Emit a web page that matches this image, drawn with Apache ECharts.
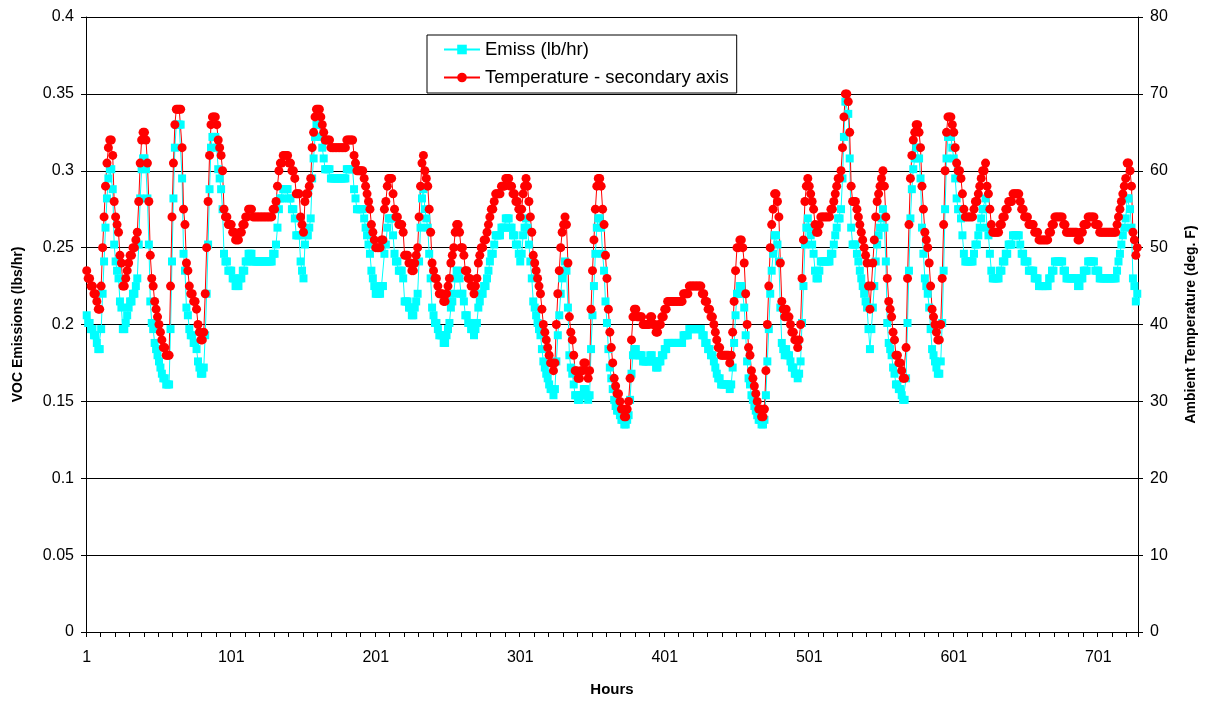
<!DOCTYPE html>
<html><head><meta charset="utf-8">
<script src="https://cdn.jsdelivr.net/npm/echarts@6/dist/echarts.min.js"></script>
<style>html,body{margin:0;padding:0;background:#fff}#c{width:1206px;height:702px}</style>
</head><body><div id="c"></div><script>
// Ambient temperature (deg. F), one value per hour
const tempF = [
47,46,46,45,45,44,44,43,42,42,
45,50,54,58,61,63,64,64,62,56,
54,53,52,49,48,45,45,46,47,48,
49,49,50,50,51,52,56,61,64,65,
65,64,61,56,49,46,45,43,42,41,
40,39,38,37,37,36,36,36,45,54,
61,66,68,68,68,68,63,55,53,48,
47,45,44,44,43,43,42,40,39,38,
38,39,44,50,56,62,66,67,67,67,
66,64,63,62,60,55,54,54,53,53,
53,52,52,51,51,51,52,52,53,53,
54,54,55,55,55,54,54,54,54,54,
54,54,54,54,54,54,54,54,54,55,
55,56,58,60,61,61,62,62,62,62,
61,61,60,60,59,57,57,57,54,53,
52,56,57,57,58,59,63,65,67,68,
68,68,67,66,65,64,64,64,64,63,
63,63,63,63,63,63,63,63,63,63,
64,64,64,64,64,62,61,60,60,60,
60,60,59,58,57,56,55,53,52,51,
50,50,50,50,51,51,55,56,58,59,
59,59,57,55,54,54,53,53,53,52,
49,49,49,48,48,47,47,48,49,50,
54,58,61,62,60,59,58,55,52,48,
47,46,46,45,44,44,44,43,43,44,
45,46,48,49,50,52,53,53,52,50,
50,49,47,47,46,46,45,45,44,45,
46,48,49,50,50,51,51,52,53,54,
55,55,56,57,57,57,57,58,58,58,
59,59,59,58,58,57,57,56,56,55,
54,55,57,58,59,58,56,54,52,49,
48,47,46,45,44,42,40,39,38,37,
36,35,35,34,35,40,44,47,50,52,
53,54,53,48,41,39,38,36,34,34,
33,33,34,34,35,35,34,33,34,42,
47,51,55,58,59,59,58,55,53,49,
46,42,39,37,35,33,32,31,31,30,
29,29,28,28,29,30,33,38,41,42,
42,41,41,41,41,40,40,40,40,40,
41,41,40,40,39,39,40,40,41,41,
42,42,43,43,43,43,43,43,43,43,
43,43,43,44,44,44,44,45,45,45,
45,45,45,45,45,45,44,44,43,43,
42,42,41,41,40,39,38,37,37,36,
36,36,36,36,36,35,36,39,43,47,
50,50,51,51,50,48,44,40,37,36,
34,33,32,31,30,29,29,28,28,29,
34,40,45,50,53,55,57,57,56,54,
48,43,42,41,42,41,41,40,39,39,
38,38,37,38,40,46,51,56,58,59,
58,57,56,55,53,52,52,53,54,54,
54,54,54,54,54,55,55,56,57,58,
59,59,60,63,67,70,70,69,65,58,
56,56,56,55,54,53,52,51,50,49,
48,45,42,45,48,51,54,56,57,58,
59,60,58,54,46,43,42,41,39,38,
36,36,35,35,34,33,33,37,46,53,
59,62,64,65,66,66,65,63,58,55,
52,51,50,48,45,42,41,40,39,38,
38,40,46,53,60,65,67,67,67,66,
65,63,61,60,60,59,57,55,54,54,
54,54,54,54,55,56,56,57,58,59,
60,60,61,58,57,55,53,52,52,52,
52,52,53,53,54,54,55,55,56,56,
56,57,57,57,57,57,56,55,55,54,
54,54,53,53,53,53,52,52,52,51,
51,51,51,51,51,51,52,52,53,53,
54,54,54,54,54,54,53,53,52,52,
52,52,52,52,52,52,51,51,52,52,
53,53,53,54,54,54,54,54,53,53,
53,52,52,52,52,52,52,52,52,52,
52,52,52,53,54,55,56,57,58,59,
61,61,60,58,52,51,49,50
];
// VOC emissions (lb/hr), one value per hour
const emiss = [
0.206,0.201,0.201,0.197,0.197,0.193,0.193,0.188,0.184,0.184,
0.197,0.220,0.241,0.263,0.282,0.295,0.301,0.301,0.288,0.252,
0.241,0.235,0.230,0.215,0.211,0.197,0.197,0.201,0.206,0.211,
0.215,0.215,0.220,0.220,0.225,0.230,0.252,0.282,0.301,0.308,
0.308,0.301,0.282,0.252,0.215,0.201,0.197,0.188,0.184,0.180,
0.176,0.172,0.168,0.165,0.165,0.161,0.161,0.161,0.197,0.241,
0.282,0.315,0.330,0.330,0.330,0.330,0.295,0.246,0.235,0.211,
0.206,0.197,0.193,0.193,0.188,0.188,0.184,0.176,0.172,0.168,
0.168,0.172,0.193,0.220,0.252,0.288,0.315,0.322,0.322,0.322,
0.315,0.301,0.295,0.288,0.275,0.246,0.241,0.241,0.235,0.235,
0.235,0.230,0.230,0.225,0.225,0.225,0.230,0.230,0.235,0.235,
0.241,0.241,0.246,0.246,0.246,0.241,0.241,0.241,0.241,0.241,
0.241,0.241,0.241,0.241,0.241,0.241,0.241,0.241,0.241,0.246,
0.246,0.252,0.263,0.275,0.282,0.282,0.288,0.288,0.288,0.288,
0.282,0.282,0.275,0.275,0.269,0.258,0.258,0.258,0.241,0.235,
0.230,0.252,0.258,0.258,0.263,0.269,0.295,0.308,0.322,0.330,
0.330,0.330,0.322,0.315,0.308,0.301,0.301,0.301,0.301,0.295,
0.295,0.295,0.295,0.295,0.295,0.295,0.295,0.295,0.295,0.295,
0.301,0.301,0.301,0.301,0.301,0.288,0.282,0.275,0.275,0.275,
0.275,0.275,0.269,0.263,0.258,0.252,0.246,0.235,0.230,0.225,
0.220,0.220,0.220,0.220,0.225,0.225,0.246,0.252,0.263,0.269,
0.269,0.269,0.258,0.246,0.241,0.241,0.235,0.235,0.235,0.230,
0.215,0.215,0.215,0.211,0.211,0.206,0.206,0.211,0.215,0.220,
0.241,0.263,0.282,0.288,0.275,0.269,0.263,0.246,0.230,0.211,
0.206,0.201,0.201,0.197,0.193,0.193,0.193,0.188,0.188,0.193,
0.197,0.201,0.211,0.215,0.220,0.230,0.235,0.235,0.230,0.220,
0.220,0.215,0.206,0.206,0.201,0.201,0.197,0.197,0.193,0.197,
0.201,0.211,0.215,0.220,0.220,0.225,0.225,0.230,0.235,0.241,
0.246,0.246,0.252,0.258,0.258,0.258,0.258,0.263,0.263,0.263,
0.269,0.269,0.269,0.263,0.263,0.258,0.258,0.252,0.252,0.246,
0.241,0.246,0.258,0.263,0.269,0.263,0.252,0.241,0.230,0.215,
0.211,0.206,0.201,0.197,0.193,0.184,0.176,0.172,0.168,0.165,
0.161,0.158,0.158,0.154,0.158,0.176,0.193,0.206,0.220,0.230,
0.235,0.241,0.235,0.211,0.180,0.172,0.168,0.161,0.154,0.154,
0.151,0.151,0.154,0.154,0.158,0.158,0.154,0.151,0.154,0.184,
0.206,0.225,0.246,0.263,0.269,0.269,0.263,0.246,0.235,0.215,
0.201,0.184,0.172,0.165,0.158,0.151,0.147,0.144,0.144,0.141,
0.138,0.138,0.135,0.135,0.138,0.141,0.151,0.168,0.180,0.184,
0.184,0.180,0.180,0.180,0.180,0.176,0.176,0.176,0.176,0.176,
0.180,0.180,0.176,0.176,0.172,0.172,0.176,0.176,0.180,0.180,
0.184,0.184,0.188,0.188,0.188,0.188,0.188,0.188,0.188,0.188,
0.188,0.188,0.188,0.193,0.193,0.193,0.193,0.197,0.197,0.197,
0.197,0.197,0.197,0.197,0.197,0.197,0.193,0.193,0.188,0.188,
0.184,0.184,0.180,0.180,0.176,0.172,0.168,0.165,0.165,0.161,
0.161,0.161,0.161,0.161,0.161,0.158,0.161,0.172,0.188,0.206,
0.220,0.220,0.225,0.225,0.220,0.211,0.193,0.176,0.165,0.161,
0.154,0.151,0.147,0.144,0.141,0.138,0.138,0.135,0.135,0.138,
0.154,0.176,0.197,0.220,0.235,0.246,0.258,0.258,0.252,0.241,
0.211,0.188,0.184,0.180,0.184,0.180,0.180,0.176,0.172,0.172,
0.168,0.168,0.165,0.168,0.176,0.201,0.225,0.252,0.263,0.269,
0.263,0.258,0.252,0.246,0.235,0.230,0.230,0.235,0.241,0.241,
0.241,0.241,0.241,0.241,0.241,0.246,0.246,0.252,0.258,0.263,
0.269,0.269,0.275,0.295,0.322,0.345,0.345,0.337,0.308,0.263,
0.252,0.252,0.252,0.246,0.241,0.235,0.230,0.225,0.220,0.215,
0.211,0.197,0.184,0.197,0.211,0.225,0.241,0.252,0.258,0.263,
0.269,0.275,0.263,0.241,0.201,0.188,0.184,0.180,0.172,0.168,
0.161,0.161,0.158,0.158,0.154,0.151,0.151,0.165,0.201,0.235,
0.269,0.288,0.301,0.308,0.315,0.315,0.308,0.295,0.263,0.246,
0.230,0.225,0.220,0.211,0.197,0.184,0.180,0.176,0.172,0.168,
0.168,0.176,0.201,0.235,0.275,0.308,0.322,0.322,0.322,0.315,
0.308,0.295,0.282,0.275,0.275,0.269,0.258,0.246,0.241,0.241,
0.241,0.241,0.241,0.241,0.246,0.252,0.252,0.258,0.263,0.269,
0.275,0.275,0.282,0.263,0.258,0.246,0.235,0.230,0.230,0.230,
0.230,0.230,0.235,0.235,0.241,0.241,0.246,0.246,0.252,0.252,
0.252,0.258,0.258,0.258,0.258,0.258,0.252,0.246,0.246,0.241,
0.241,0.241,0.235,0.235,0.235,0.235,0.230,0.230,0.230,0.225,
0.225,0.225,0.225,0.225,0.225,0.225,0.230,0.230,0.235,0.235,
0.241,0.241,0.241,0.241,0.241,0.241,0.235,0.235,0.230,0.230,
0.230,0.230,0.230,0.230,0.230,0.230,0.225,0.225,0.230,0.230,
0.235,0.235,0.235,0.241,0.241,0.241,0.241,0.241,0.235,0.235,
0.235,0.230,0.230,0.230,0.230,0.230,0.230,0.230,0.230,0.230,
0.230,0.230,0.230,0.235,0.241,0.246,0.252,0.258,0.263,0.269,
0.282,0.282,0.275,0.263,0.230,0.225,0.215,0.220
];
const hours = tempF.map((_, i) => String(i + 1));
const seriesNames = ['Emiss (lb/hr)', 'Temperature - secondary axis'];

const FONT = '"Liberation Sans", Arial, sans-serif';
const chart = echarts.init(document.getElementById('c'), null, {renderer: 'canvas'});
chart.setOption({
  animation: false,
  backgroundColor: '#fff',
  textStyle: {fontFamily: FONT, color: '#000'},
  grid: {left: 86, right: 68, top: 17, bottom: 70, containLabel: false},
  legend: {
    orient: 'vertical', left: 427, top: 35,
    padding: [5, 8, 6, 16], itemGap: 9, itemWidth: 36, itemHeight: 12,
    backgroundColor: '#fff', borderColor: '#000', borderWidth: 1, borderRadius: 0,
    textStyle: {fontSize: 18.5, color: '#000', fontFamily: FONT},
    data: seriesNames
  },
  xAxis: {
    type: 'category', data: hours, boundaryGap: true,
    name: 'Hours', nameLocation: 'middle', nameGap: 50,
    nameTextStyle: {fontWeight: 'bold', fontSize: 15, color: '#000', fontFamily: FONT},
    axisLine: {show: true, lineStyle: {color: '#000', width: 1}},
    axisTick: {show: true, interval: 9, length: 5, lineStyle: {color: '#000'}},
    axisLabel: {interval: 99, fontSize: 16, color: '#000', margin: 18, fontFamily: FONT},
    splitLine: {show: false}
  },
  yAxis: [{
    type: 'value', min: 0, max: 0.4, interval: 0.05, position: 'left',
    name: 'VOC Emissions (lbs/hr)', nameLocation: 'middle', nameRotate: 90, nameGap: 61,
    nameTextStyle: {fontWeight: 'bold', fontSize: 14, color: '#000', fontFamily: FONT},
    axisLine: {show: true, lineStyle: {color: '#000', width: 1}},
    axisTick: {show: true, length: 5, lineStyle: {color: '#000'}},
    axisLabel: {fontSize: 16, color: '#000', margin: 12, fontFamily: FONT},
    splitLine: {show: true, lineStyle: {color: '#000', width: 1}}
  }, {
    type: 'value', min: 0, max: 80, interval: 10, position: 'right',
    name: 'Ambient Temperature (deg. F)', nameLocation: 'middle', nameRotate: 90, nameGap: 46,
    nameTextStyle: {fontWeight: 'bold', fontSize: 14, color: '#000', fontFamily: FONT},
    axisLine: {show: true, lineStyle: {color: '#000', width: 1}},
    axisTick: {show: true, length: 5, lineStyle: {color: '#000'}},
    axisLabel: {fontSize: 16, color: '#000', margin: 12, fontFamily: FONT},
    splitLine: {show: false}
  }],
  series: [{
    name: seriesNames[0], type: 'line', data: emiss, yAxisIndex: 0,
    symbol: 'rect', symbolSize: 8, showAllSymbol: true,
    lineStyle: {color: '#00FFFF', width: 1}, itemStyle: {color: '#00FFFF'}
  }, {
    name: seriesNames[1], type: 'line', data: tempF, yAxisIndex: 1,
    symbol: 'circle', symbolSize: 9, showAllSymbol: true,
    lineStyle: {color: '#FF0000', width: 1}, itemStyle: {color: '#FF0000'}
  }]
});
</script></body></html>
